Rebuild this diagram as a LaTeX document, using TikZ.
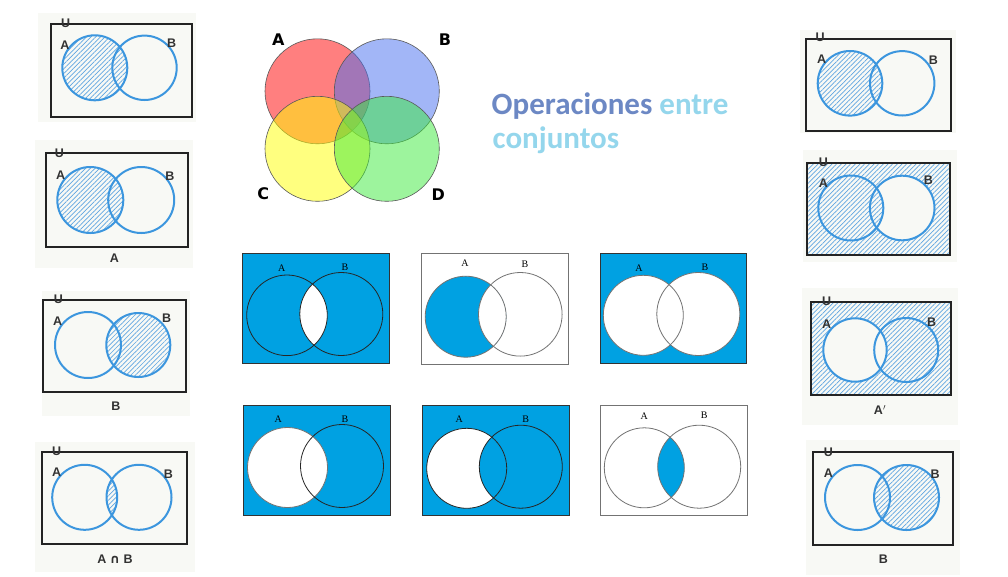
\documentclass[tikz,border=0pt]{standalone}
\usepackage{fontspec}
\setmainfont{Liberation Serif}
\setsansfont{Liberation Sans}
\newfontfamily\titlefont{Carlito}
\newfontfamily\vennfont{DejaVu Sans}
\usetikzlibrary{patterns.meta}

\definecolor{papertone}{RGB}{248,249,245}
\definecolor{frameink}{RGB}{35,35,35}
\definecolor{ringblue}{RGB}{60,150,222}
\definecolor{hatchblue}{RGB}{95,165,225}
\definecolor{inkgray}{RGB}{50,50,50}
\definecolor{setblue}{RGB}{0,161,226}
\definecolor{vennA}{RGB}{255,0,0}
\definecolor{vennB}{RGB}{70,110,240}
\definecolor{vennC}{RGB}{255,255,0}
\definecolor{vennD}{RGB}{60,235,60}
\definecolor{titledark}{RGB}{108,136,196}
\definecolor{titlelight}{RGB}{148,214,236}

\tikzset{
  paper/.style={fill=papertone},
  frame/.style={draw=frameink, line width=2.2pt},
  ring/.style={draw=ringblue, line width=2pt},
  hatch/.style={pattern={Lines[angle=45,distance=3.3pt,line width=0.7pt]}, pattern color=hatchblue},
  tag/.style={font=\sffamily\bfseries\fontsize{12.5}{12.5}\selectfont, text=inkgray, inner sep=0pt},
  setlbl/.style={font=\rmfamily\fontsize{10}{10}\selectfont, inner sep=0pt},
  bluebox/.style={fill=setblue, draw=black!80, line width=0.8pt},
  whitebox/.style={fill=white, draw=black!55, line width=0.8pt},
  darkring/.style={draw=black!85, line width=0.8pt},
  grayring/.style={draw=black!55, line width=0.8pt},
  venn/.style={fill opacity=0.5, draw=black!65, line width=0.6pt},
  vennlbl/.style={font=\vennfont\bfseries\fontsize{16}{16}\selectfont, inner sep=0pt},
  titletext/.style={font=\titlefont\bfseries\fontsize{31}{31}\selectfont, inner sep=0pt, anchor=base west}
}

\begin{document}
\begin{tikzpicture}[x=1pt,y=-1pt]
%\draw [help lines, step=50] (0,0) grid (1008,576);
\fill [white] (0,0) rectangle (1008,576);
\useasboundingbox (0,0) rectangle (1008,576);

% left column
\fill [paper] (38,13) rectangle (196,122);
\fill [hatch] (94.8,67.8) circle (32.5);
\draw [ring] (94.8,67.8) circle (32.5);
\draw [ring] (144.5,67.8) circle (32.2);
\draw [frame] (51,24) rectangle (192,117);
\node [tag] (l1u) at (65.7,23) {U};
\node [tag] (l1a) at (65,45) {A};
\node [tag] (l1b) at (171.7,43.3) {B};

\fill [paper] (35,140) rectangle (193,268);
\fill [hatch] (90.3,200) circle (33);
\draw [ring] (90.3,200) circle (33);
\draw [ring] (141.2,200) circle (33);
\draw [frame] (46,153) rectangle (188,247);
\node [tag] (l2u) at (59.3,153) {U};
\node [tag] (l2a) at (60.7,175) {A};
\node [tag] (l2b) at (170,176) {B};
\node [tag] (l2cap) at (114.3,258.3) {A};

\fill [paper] (42,291) rectangle (190,416);
\fill [hatch] (138.3,345) circle (32);
\draw [ring] (88,345) circle (33);
\draw [ring] (138.3,345) circle (32);
\draw [frame] (43,300) rectangle (186,392);
\node [tag] (l3u) at (58.3,299) {U};
\node [tag] (l3a) at (57.7,321) {A};
\node [tag] (l3b) at (166.7,318.3) {B};
\node [tag] (l3cap) at (116,405.7) {B};

\fill [paper] (35,442) rectangle (195,572);
\begin{scope}
\clip (84.7,497.3) circle (32.5);
\fill [hatch] (139,497.3) circle (32.5);
\end{scope}
\draw [ring] (84.7,497.3) circle (32.5);
\draw [ring] (139,497.3) circle (32.5);
\draw [frame] (42,452) rectangle (187,544);
\node [tag] (l4u) at (56.7,451.7) {U};
\node [tag] (l4a) at (56.7,471.7) {A};
\node [tag] (l4b) at (168.3,474.3) {B};
\node [tag] (l4cap) at (115,559) {A {\vennfont ∩} B};

% four sets
\filldraw [venn, fill=vennA] (317.5,91.3) circle (52.5);
\filldraw [venn, fill=vennB] (386.8,91.3) circle (52.5);
\filldraw [venn, fill=vennC] (317.5,148.8) circle (52.5);
\filldraw [venn, fill=vennD] (386.8,148.8) circle (52.5);
\node [vennlbl] (va) at (278.3,40) {A};
\node [vennlbl] (vb) at (445,40) {B};
\node [vennlbl] (vc) at (263.3,193.3) {C};
\node [vennlbl] (vd) at (438.3,195) {D};

\node [titletext] (title1) at (491.5,114.3) {\textcolor{titledark}{Operaciones} \textcolor{titlelight}{entre}};
\node [titletext, text=titlelight] (title2) at (492.5,148.3) {conjuntos};

% middle, top row
\filldraw [bluebox] (242.3,253.3) rectangle (389.3,363.3);
\begin{scope}
\clip (287,315.3) circle (40.3);
\fill [white] (341.3,314) circle (41.5);
\end{scope}
\draw [darkring] (287,315.3) circle (40.3);
\draw [darkring] (341.3,314) circle (41.5);
\node [setlbl] (m1a) at (281.7,267.7) {A};
\node [setlbl] (m1b) at (345,267.7) {B};

\filldraw [whitebox] (421.7,253.3) rectangle (568.3,364);
\fill [setblue] (465.7,316.7) circle (40.5);
\begin{scope}
\clip (465.7,316.7) circle (40.5);
\fill [white] (520.3,314.3) circle (41.8);
\end{scope}
\draw [grayring] (465.7,316.7) circle (40.5);
\draw [grayring] (520.3,314.3) circle (41.8);
\node [setlbl] (m2a) at (465,263.3) {A};
\node [setlbl] (m2b) at (525,264.3) {B};

\filldraw [bluebox] (600,253.3) rectangle (746.7,363.3);
\fill [white] (643.3,315.3) circle (40);
\fill [white] (698.3,314) circle (41.5);
\draw [grayring] (643.3,315.3) circle (40);
\draw [grayring] (698.3,314) circle (41.5);
\node [setlbl] (m3a) at (639,267.7) {A};
\node [setlbl] (m3b) at (705,267.7) {B};

% middle, bottom row
\filldraw [bluebox] (243.3,405) rectangle (390,515);
\fill [white] (287.5,467.5) circle (40);
\draw [grayring] (287.5,467.5) circle (40);
\draw [darkring] (342,466) circle (41.5);
\node [setlbl] (m4a) at (278.3,419) {A};
\node [setlbl] (m4b) at (345,419) {B};

\filldraw [bluebox] (422.3,405.7) rectangle (569.3,515.7);
\fill [white] (466.7,468.3) circle (40);
\begin{scope}
\clip (466.7,468.3) circle (40);
\fill [setblue] (520.8,466.7) circle (41.5);
\end{scope}
\draw [darkring] (466.7,468.3) circle (40);
\draw [darkring] (520.8,466.7) circle (41.5);
\node [setlbl] (m5a) at (459.3,419) {A};
\node [setlbl] (m5b) at (525.7,419) {B};

\filldraw [whitebox] (600.7,405) rectangle (747.3,515);
\begin{scope}
\clip (644.3,467.8) circle (40);
\fill [setblue] (699.2,466.7) circle (41.5);
\end{scope}
\draw [grayring] (644.3,467.8) circle (40);
\draw [grayring] (699.2,466.7) circle (41.5);
\node [setlbl] (m6a) at (644.3,415.7) {A};
\node [setlbl] (m6b) at (704.3,415.7) {B};

% right column
\fill [paper] (800,30) rectangle (956,133);
\fill [hatch] (850,83.3) circle (32.3);
\draw [ring] (850,83.3) circle (32.3);
\draw [ring] (902.2,83.3) circle (32.2);
\draw [frame] (806,39) rectangle (951,131);
\node [tag] (r1u) at (820,37) {U};
\node [tag] (r1a) at (821.7,59.3) {A};
\node [tag] (r1b) at (933.3,60) {B};

\fill [paper] (803,150) rectangle (957,262);
\fill [hatch, even odd rule] (807,163) rectangle (950,255) (902.2,208) circle (32.3);
\begin{scope}
\clip (902.2,208) circle (32.3);
\fill [hatch] (850.8,208) circle (32.5);
\end{scope}
\draw [ring] (850.8,208) circle (32.5);
\draw [ring] (902.2,208) circle (32.3);
\draw [frame] (807,163) rectangle (950,255);
\node [tag] (r2u) at (823.3,162) {U};
\node [tag] (r2a) at (823.3,182.7) {A};
\node [tag] (r2b) at (928.3,180) {B};

\fill [paper] (802,288) rectangle (958,425);
\fill [hatch, even odd rule] (811,302) rectangle (951,395) (855,350) circle (31.7);
\draw [ring] (855,350) circle (31.7);
\draw [ring] (906.2,350) circle (32);
\draw [frame] (811,302) rectangle (951,395);
\node [tag] (r3u) at (826.7,301.7) {U};
\node [tag] (r3a) at (826.7,324.3) {A};
\node [tag] (r3b) at (931.7,321.7) {B};
\node [tag] (r3cap) at (880,410) {A$'$};

\fill [paper] (806,440) rectangle (960,575);
\fill [hatch] (906.5,497.5) circle (32.5);
\draw [ring] (857.5,497.5) circle (32.5);
\draw [ring] (906.5,497.5) circle (32.5);
\draw [frame] (813,452) rectangle (953,545);
\node [tag] (r4u) at (828.3,452.3) {U};
\node [tag] (r4a) at (828.3,472.7) {A};
\node [tag] (r4b) at (935,474.3) {B};
\node [tag] (r4cap) at (883.3,559) {B};

\end{tikzpicture}
\end{document}
